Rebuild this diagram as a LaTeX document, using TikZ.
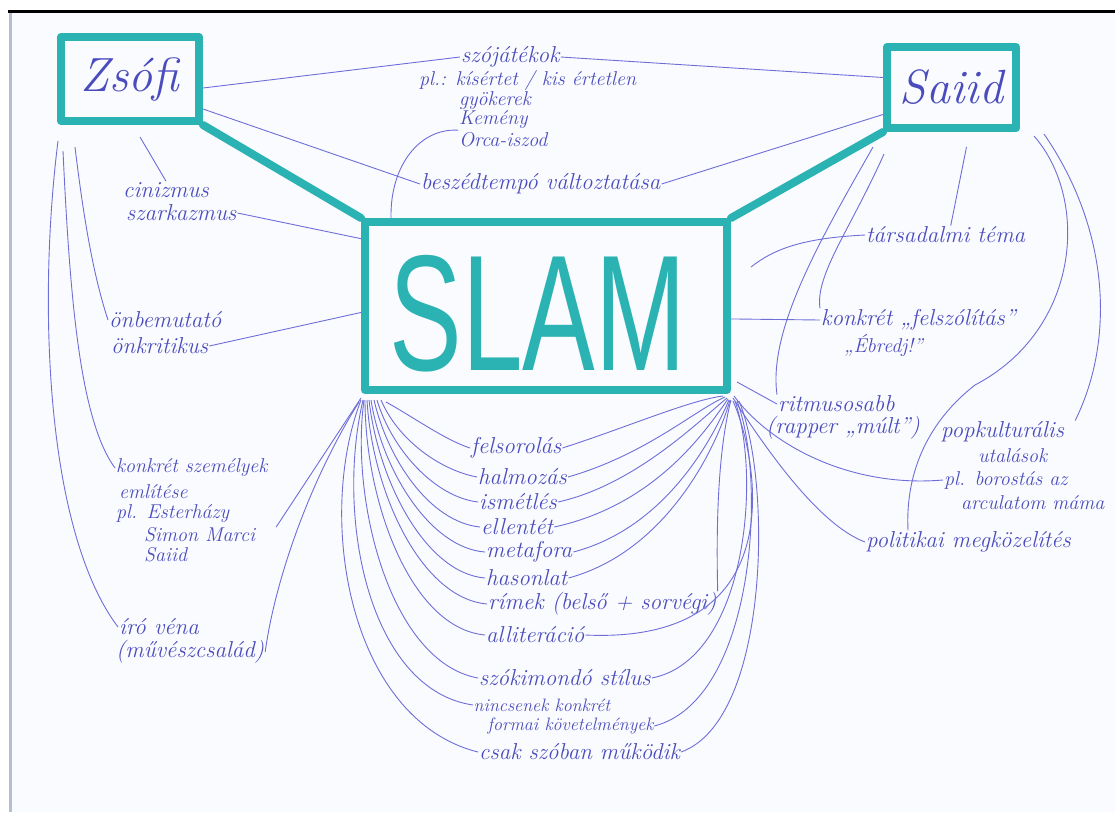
\documentclass[tikz,border=0pt]{standalone}
\usepackage{fontspec}
\newfontfamily\slamfont{Liberation Sans}
\definecolor{tealm}{HTML}{2AB3B2}
\definecolor{penc}{HTML}{4A4CBD}
\definecolor{penl}{HTML}{6E6ED8}
\definecolor{paper}{HTML}{FAFBFE}
\definecolor{edgec}{HTML}{B4BFD6}
\begin{document}
\begin{tikzpicture}[x=1pt,y=-1pt,
  hw/.style={font=\itshape\fontsize{23}{24}\selectfont, text=penc, inner sep=1pt, anchor=west},
  hws/.style={font=\itshape\fontsize{20}{21}\selectfont, text=penc, inner sep=1pt, anchor=west},
  hwt/.style={font=\itshape\fontsize{18}{19}\selectfont, text=penc, inner sep=0.5pt, anchor=west},
  hwbig/.style={font=\itshape\fontsize{48}{50}\selectfont, text=penc},
  mbox/.style={draw=tealm, line width=8pt, inner sep=0pt, line join=round},
  mline/.style={draw=tealm, line width=8pt, line cap=round},
  link/.style={draw=penl, line width=0.9pt},
]
\useasboundingbox (0,0) rectangle (1115,812);
\fill[white] (0,0) rectangle (1115,812);
\fill[paper] (9,12) rectangle (1115,812);
\draw[edgec, line width=3pt] (10,12) -- (10,812);
\draw[black, line width=3pt] (8,11.5) -- (1115,11.5);

% main boxes
\node[mbox, minimum width=138pt, minimum height=84pt, hwbig] (zsofi) at (130,79) {Zsófi};
\node[mbox, minimum width=129pt, minimum height=81pt, hwbig] (saiid) at (951.5,87.5) {Saiid};
\node[mbox, minimum width=362pt, minimum height=168pt] (slam) at (546,306) {};
\node[text=tealm, font=\slamfont\fontsize{165}{165}\selectfont, inner sep=0pt] (slamtxt) at (538,314) {\scalebox{0.66}[1]{SLAM}};
\coordinate (blc) at (slam.south west);
\coordinate (brc) at (slam.south east);
\draw[mline] (zsofi.south east) -- (slam.north west);
\draw[mline] (saiid.south west) -- (slam.north east);

% top texts
\node[hw] (szo) at (460,57) {szójátékok};
\node[hws] (ex1) at (418,80) {pl.: kísértet / kis értetlen};
\node[hws] (ex2) at (458,101) {gyökerek};
\node[hws] (ex3) at (458,120) {Kemény};
\node[hws] (ex4) at (458,140) {Orca-iszod};
\node[hw] (tempo) at (420,184) {beszédtempó változtatása};

% left texts
\node[hw] (cin) at (122,190) {cinizmus};
\node[hw] (szark) at (125,213) {szarkazmus};
\node[hw] (onbem) at (108,320) {önbemutató};
\node[hw] (onkrit) at (110,346) {önkritikus};
\node[hws] (konk) at (115,468) {konkrét személyek};
\node[hws] (eml) at (118,492) {említése};
\node[hws] (ester) at (115,514) {pl. Esterházy};
\node[hws] (simon) at (143,535) {Simon Marci};
\node[hws] (said2) at (143,555) {Saiid};
\node[hw] (iro) at (118,627) {író véna};
\node[hw] (csal) at (115,652) {(művészcsalád)};

% right texts
\node[hw] (tars) at (865,235) {társadalmi téma};
\node[hw] (felsz) at (820,320) {konkrét „felszólítás”};
\node[hws] (ebredj) at (843,346) {„Ébredj!”};
\node[hw] (ritm) at (777,404) {ritmusosabb};
\node[hw] (rapper) at (765,428) {(rapper „múlt”)};
\node[hw] (pop) at (940,432) {popkulturális};
\node[hws] (utal) at (977,456) {utalások};
\node[hws] (boros) at (943,480) {pl. borostás az};
\node[hws] (arc) at (960,503) {arculatom máma};
\node[hw] (polit) at (865,542) {politikai megközelítés};

% bottom list
\node[hw] (l1) at (470,448) {felsorolás};
\node[hw] (l2) at (477,477) {halmozás};
\node[hw] (l3) at (478,502) {ismétlés};
\node[hw] (l4) at (480,527) {ellentét};
\node[hw] (l5) at (485,552) {metafora};
\node[hw] (l6) at (485,578) {hasonlat};
\node[hw] (l7) at (487,604) {rímek (belső + sorvégi)};
\node[hw] (l8) at (485,635) {alliteráció};
\node[hw] (l9) at (478,678) {szókimondó stílus};
\node[hwt] (l10) at (473,705) {nincsenek konkrét};
\node[hwt] (l11) at (487,726) {formai követelmények};
\node[hw] (l12) at (478,752) {csak szóban működik};

% top connectors
\draw[link] ([yshift=-9pt]zsofi.east) -- (szo.west);
\draw[link] (szo.east) -- ([yshift=10pt]saiid.west);
\draw[link] ([yshift=-30pt]zsofi.east) -- (tempo.west);
\draw[link] (tempo.east) -- ([yshift=-27pt]saiid.west);
\draw[link] ([xshift=30pt]slam.north west) .. controls (390,165) and (420,128) .. (ex3.south west);

% left connectors
\draw[link] ([xshift=10pt,yshift=-12pt]zsofi.south) -- (cin.north);
\draw[link] (szark.east) -- (slam.160);
\draw[link] (onkrit.east) -- (slam.182);
\draw[link] ([xshift=1pt,yshift=-16pt]zsofi.south west) .. controls (38,300) and (45,530) .. (iro.west);
\draw[link] ([xshift=6pt,yshift=-26pt]zsofi.south west) .. controls (70,300) and (80,420) .. (konk.west);
\draw[link] ([xshift=18pt,yshift=-22pt]zsofi.south west) .. controls (85,230) and (95,280) .. (onbem.west);
\draw[link] ([yshift=-4pt]blc) -- ([xshift=20pt,yshift=8pt]simon.east);
\draw[link] ([xshift=-2pt,yshift=-8pt]blc) .. controls (310,480) and (275,580) .. (csal.east);

% left fan
\draw[link] ([xshift=25pt,yshift=-8pt]blc) .. controls (410,415) and (445,440) .. (l1.west);
\draw[link] ([xshift=20pt,yshift=-6pt]blc) .. controls (398,440) and (440,470) .. (l2.west);
\draw[link] ([xshift=16pt,yshift=-6pt]blc) .. controls (392,450) and (435,497) .. (l3.west);
\draw[link] ([xshift=13pt,yshift=-6pt]blc) .. controls (388,460) and (430,522) .. (l4.west);
\draw[link] ([xshift=10pt,yshift=-6pt]blc) .. controls (382,470) and (430,548) .. (l5.west);
\draw[link] ([xshift=8pt,yshift=-6pt]blc) .. controls (378,480) and (425,573) .. (l6.west);
\draw[link] ([xshift=6pt,yshift=-6pt]blc) .. controls (372,490) and (420,598) .. (l7.west);
\draw[link] ([xshift=4pt,yshift=-6pt]blc) .. controls (365,500) and (410,628) .. (l8.west);
\draw[link] ([xshift=3pt,yshift=-6pt]blc) .. controls (350,500) and (390,662) .. (l9.west);
\draw[link] ([xshift=2pt,yshift=-6pt]blc) .. controls (335,520) and (370,690) .. (l10.west);
\draw[link] ([xshift=0pt,yshift=-6pt]blc) .. controls (315,520) and (350,720) .. (l12.west);

% right fan
\draw[link] (l1.east) .. controls (625,428) and (690,400) .. ([xshift=-8pt,yshift=-2pt]brc);
\draw[link] (l2.east) .. controls (645,455) and (695,410) .. ([xshift=-6pt,yshift=-3pt]brc);
\draw[link] (l3.east) .. controls (635,485) and (700,420) .. ([xshift=-4pt,yshift=-4pt]brc);
\draw[link] (l4.east) .. controls (655,505) and (705,432) .. ([xshift=-3pt,yshift=-5pt]brc);
\draw[link] (l5.east) .. controls (665,528) and (712,440) .. ([xshift=-2pt,yshift=-6pt]brc);
\draw[link] (l6.east) .. controls (665,552) and (716,450) .. ([xshift=-1pt,yshift=-6pt]brc);
\draw[link] (l7.north east) .. controls (716,525) and (718,450) .. ([yshift=-6pt]brc);
\draw[link] (l8.east) .. controls (800,645) and (755,450) .. ([xshift=2pt,yshift=-7pt]brc);
\draw[link] (l9.east) .. controls (745,660) and (762,480) .. ([xshift=4pt,yshift=-7pt]brc);
\draw[link] (l11.east) .. controls (755,700) and (767,480) .. ([xshift=6pt,yshift=-7pt]brc);
\draw[link] (l12.east) .. controls (770,720) and (772,480) .. ([xshift=8pt,yshift=-7pt]brc);

% right connectors
\draw[link] ([xshift=15pt,yshift=-15pt]saiid.south) -- ([xshift=5pt]tars.north);
\draw[link] (tars.west) .. controls (805,238) and (775,248) .. ([xshift=20pt,yshift=39pt]slam.east);
\draw[link] (felsz.west) -- (slam.-4);
\draw[link] ([xshift=-10pt,yshift=-15pt]saiid.south west) .. controls (820,240) and (768,330) .. (ritm.north west);
\draw[link] ([xshift=1pt,yshift=-22pt]saiid.south west) .. controls (850,230) and (815,275) .. (felsz.north west);
\draw[link] ([xshift=14pt,yshift=-4pt]saiid.south east) .. controls (1090,200) and (1080,330) .. (975,385) .. controls (930,420) and (905,470) .. ([xshift=43pt]polit.north west);
\draw[link] ([xshift=24pt,yshift=-2pt]saiid.south east) .. controls (1110,230) and (1115,340) .. ([xshift=10pt]pop.north east);
\draw[link] ([xshift=6pt,yshift=12pt]brc) -- (ritm.west);
\draw[link] ([xshift=3pt,yshift=-2pt]brc) .. controls (770,445) and (850,488) .. (boros.west);
\draw[link] ([xshift=2pt,yshift=-4pt]brc) .. controls (770,455) and (820,525) .. (polit.west);
\end{tikzpicture}
\end{document}
